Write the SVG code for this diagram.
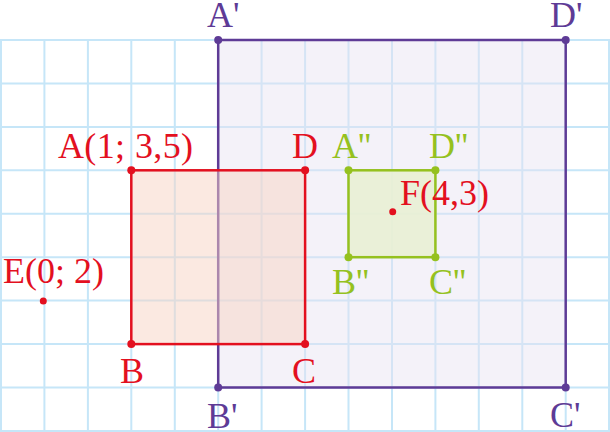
<svg xmlns="http://www.w3.org/2000/svg" width="610" height="432" viewBox="0 0 610 432">
<style>
.grid line{stroke:#c6e6f8;stroke-width:2}
text{font-family:"Liberation Serif","Times New Roman",serif;font-size:36px}
.r{fill:#e3101f}.p{fill:#5e3b96}.g{fill:#95c11f}
</style>
<rect width="610" height="432" fill="#fff"/>
<g class="grid">
<line x1="1" y1="40" x2="1" y2="431"/><line x1="44.4" y1="40" x2="44.4" y2="431"/><line x1="87.9" y1="40" x2="87.9" y2="431"/><line x1="131.3" y1="40" x2="131.3" y2="431"/><line x1="174.8" y1="40" x2="174.8" y2="431"/><line x1="218.2" y1="40" x2="218.2" y2="431"/><line x1="261.6" y1="40" x2="261.6" y2="431"/><line x1="305.1" y1="40" x2="305.1" y2="431"/><line x1="348.5" y1="40" x2="348.5" y2="431"/><line x1="392" y1="40" x2="392" y2="431"/><line x1="435.4" y1="40" x2="435.4" y2="431"/><line x1="478.8" y1="40" x2="478.8" y2="431"/><line x1="522.3" y1="40" x2="522.3" y2="431"/><line x1="565.7" y1="40" x2="565.7" y2="431"/><line x1="609" y1="40" x2="609" y2="431"/>
<line x1="0" y1="40" x2="610" y2="40"/><line x1="0" y1="83.4" x2="610" y2="83.4"/><line x1="0" y1="126.9" x2="610" y2="126.9"/><line x1="0" y1="170.3" x2="610" y2="170.3"/><line x1="0" y1="213.8" x2="610" y2="213.8"/><line x1="0" y1="257.2" x2="610" y2="257.2"/><line x1="0" y1="300.6" x2="610" y2="300.6"/><line x1="0" y1="344.1" x2="610" y2="344.1"/><line x1="0" y1="387.5" x2="610" y2="387.5"/><line x1="0" y1="431" x2="610" y2="431"/>
</g>
<g id="squareApBpCpDp">
<rect x="218.2" y="40" width="347.5" height="347.5" fill="#e6e3f2" fill-opacity="0.45" stroke="#5e3b96" stroke-width="2.5"/>
<circle cx="218.2" cy="40" r="4" class="p"/><circle cx="565.7" cy="40" r="4" class="p"/><circle cx="218.2" cy="387.5" r="4" class="p"/><circle cx="565.7" cy="387.5" r="4" class="p"/>
<text x="207" y="27" class="p">A'</text><text x="550" y="27" class="p">D'</text><text x="207" y="428" class="p">B'</text><text x="550" y="427" class="p">C'</text>
</g>
<g id="squareABCD">
<rect x="131.3" y="170.3" width="173.8" height="173.8" fill="#f7d3c3" fill-opacity="0.5" stroke="#e3101f" stroke-width="2.5"/>
<circle cx="131.3" cy="170.3" r="4" class="r"/><circle cx="305.1" cy="170.3" r="4" class="r"/><circle cx="131.3" cy="344.1" r="4" class="r"/><circle cx="305.1" cy="344.1" r="4" class="r"/>
<text x="58" y="158" class="r" textLength="135">A(1; 3,5)</text><text x="292" y="158" class="r">D</text><text x="120" y="383" class="r">B</text><text x="292" y="383" class="r">C</text>
</g>
<g id="squareAppBppCppDpp">
<rect x="348.5" y="170.3" width="86.9" height="86.9" fill="#e9f0d4" fill-opacity="0.9" stroke="#95c11f" stroke-width="2.5"/>
<circle cx="348.5" cy="170.3" r="4" class="g"/><circle cx="435.4" cy="170.3" r="4" class="g"/><circle cx="348.5" cy="257.2" r="4" class="g"/><circle cx="435.4" cy="257.2" r="4" class="g"/>
<text x="332" y="158" class="g">A''</text><text x="429" y="158" class="g">D''</text><text x="332" y="294" class="g">B''</text><text x="429" y="294" class="g">C''</text>
</g>
<g id="pointE">
<circle cx="43.3" cy="301" r="3.5" class="r"/>
<text x="3" y="283" class="r">E(0; 2)</text>
</g>
<g id="pointF">
<circle cx="392.7" cy="211.7" r="3.5" class="r"/>
<text x="400" y="205" class="r">F(4,3)</text>
</g>
</svg>
